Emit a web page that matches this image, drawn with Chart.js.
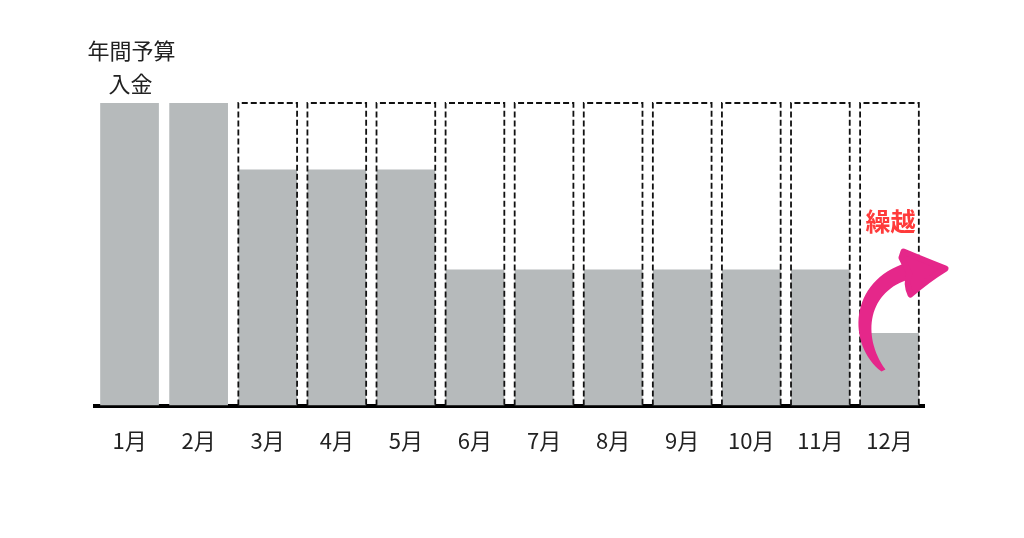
<!DOCTYPE html>
<html>
<head>
<meta charset="utf-8">
<script src="https://cdn.jsdelivr.net/npm/chart.js@4/dist/chart.umd.min.js"></script>
<style>
	html, body { margin: 0; padding: 0; background: #fff; }
	#wrap { width: 1024px; height: 538px; }
</style>
</head>
<body>
<div id="wrap"><canvas id="chart"></canvas></div>
<script>
const months = ['1月', '2月', '3月', '4月', '5月', '6月', '7月', '8月', '9月', '10月', '11月', '12月']
const balance = [100, 100, 78, 78, 78, 45, 45, 45, 45, 45, 45, 24]
const budget = [null, null, 100, 100, 100, 100, 100, 100, 100, 100, 100, 100]
const noteLines = ['年間予算', '入金']
const carryLabel = '繰越'

const font = '"Noto Sans CJK JP", "Noto Sans", sans-serif'

// dashed outline for the full budget boxes
const dashedBoxes = {
	id: 'dashedBoxes',
	afterDatasetsDraw(chart) {
		const ctx = chart.ctx
		const meta = chart.getDatasetMeta(1)
		ctx.save()
		ctx.strokeStyle = '#111'
		ctx.lineWidth = 1.8
		ctx.setLineDash([6, 3])
		meta.data.forEach((bar, i) => {
			if (budget[i] == null) return
			const p = bar.getProps(['x', 'y', 'base', 'width'], true)
			const l = p.x - p.width / 2, r = p.x + p.width / 2
			ctx.beginPath()
			ctx.moveTo(l, p.base)
			ctx.lineTo(l, p.y)
			ctx.lineTo(r, p.y)
			ctx.lineTo(r, p.base)
			ctx.stroke()
		})
		ctx.restore()
	}
}

const notes = {
	id: 'notes',
	afterDraw(chart) {
		const ctx = chart.ctx
		const first = chart.getDatasetMeta(0).data[0]
		const last = chart.getDatasetMeta(0).data[11]
		const y = chart.scales.y
		ctx.save()
		ctx.textAlign = 'center'
		ctx.textBaseline = 'middle'
		ctx.fillStyle = '#222'
		ctx.font = '22px ' + font
		ctx.fillText(noteLines[0], first.x + 2, y.getPixelForValue(100) - 52)
		ctx.fillText(noteLines[1], first.x + 1, y.getPixelForValue(100) - 19)

		// carry-over label
		ctx.fillStyle = '#ff3b3b'
		ctx.font = 'bold 25px ' + font
		ctx.fillText(carryLabel, last.x + 1, y.getPixelForValue(61))

		// curved arrow
		const cx = last.x, by = y.getPixelForValue(0)
		ctx.fillStyle = '#e5278a'
		ctx.beginPath()
		ctx.moveTo(cx - 8, by - 34)
		ctx.bezierCurveTo(cx - 42, by - 60, cx - 42, by - 125, cx + 18, by - 143)
		ctx.lineTo(cx + 22, by - 127)
		ctx.bezierCurveTo(cx - 22, by - 115, cx - 28, by - 70, cx - 4, by - 36)
		ctx.closePath()
		ctx.fill()
		ctx.lineJoin = 'round'
		ctx.lineWidth = 6
		ctx.strokeStyle = '#e5278a'
		ctx.beginPath()
		ctx.moveTo(cx + 14, by - 154)
		ctx.quadraticCurveTo(cx + 38, by - 144, cx + 56, by - 137)
		ctx.quadraticCurveTo(cx + 38, by - 126, cx + 21, by - 111)
		ctx.quadraticCurveTo(cx + 16, by - 122, cx + 20, by - 132)
		ctx.lineTo(cx + 12, by - 148)
		ctx.closePath()
		ctx.fill()
		ctx.stroke()
		ctx.restore()
	}
}

new Chart(document.getElementById('chart'), {
	type: 'bar',
	data: {
		labels: months,
		datasets: [
			{
				data: balance,
				backgroundColor: '#b6babb',
				barPercentage: 0.85,
				categoryPercentage: 1,
				grouped: false,
				order: 1
			},
			{
				data: budget,
				backgroundColor: 'rgba(0,0,0,0)',
				barPercentage: 0.85,
				categoryPercentage: 1,
				grouped: false,
				order: 2
			}
		]
	},
	options: {
		responsive: true,
		maintainAspectRatio: false,
		animation: false,
		layout: {
			padding: { left: 95, right: 100, top: 103, bottom: 62 }
		},
		plugins: {
			legend: { display: false },
			tooltip: { enabled: false }
		},
		scales: {
			x: {
				grid: { display: false, drawTicks: false },
				border: { display: true, color: '#000', width: 4 },
				ticks: {
					color: '#222',
					padding: 22,
					font: { size: 22, family: font }
				}
			},
			y: {
				display: false,
				min: 0,
				max: 100
			}
		}
	},
	plugins: [dashedBoxes, notes]
})
</script>
</body>
</html>
